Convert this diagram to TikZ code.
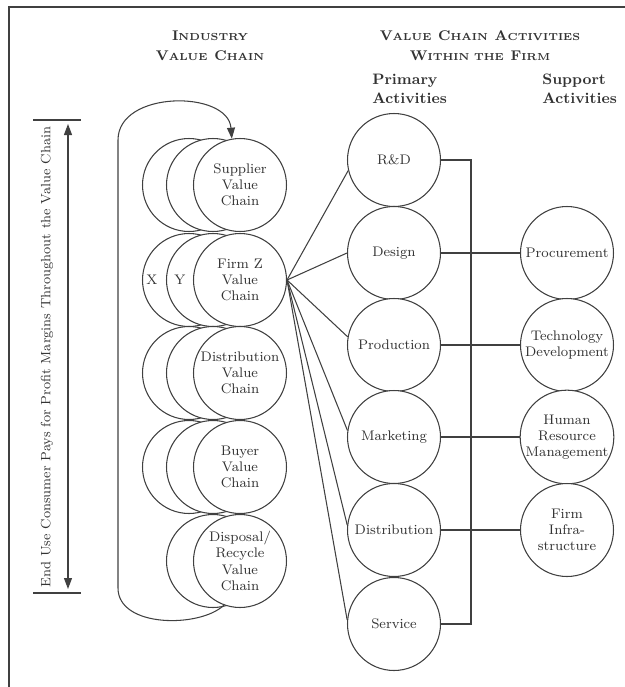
\documentclass[tikz,border=0pt]{standalone}
\usepackage{tikz}
\usetikzlibrary{arrows.meta, positioning, calc}

% fake small caps for the headings
\newcommand{\hsc}[2]{{\fontsize{8}{11}\selectfont #1}{\fontsize{5.8}{11}\selectfont #2}}

\begin{document}
\begin{tikzpicture}[x=0.02cm, y=-0.02cm, line width=0.6pt, color=black!75,
  every node/.style={text=black!80, font=\fontsize{7.9}{9.2}\selectfont},
  vc/.style={circle, draw, fill=white, minimum size=1.86cm, inner sep=0pt, align=center},
  head/.style={font=\bfseries\fontsize{8.6}{10.6}\selectfont, align=left, anchor=west},
  title/.style={font=\bfseries, align=center}]
  \useasboundingbox (0,0) rectangle (625,687);

  % Frame
  \draw (9,687) -- (9,7) -- (625,7);

  % Headings
  \node[title] (indHead) at (210,46) {\hsc{I}{NDUSTRY}\\[-0.5pt]\hsc{V}{ALUE} \hsc{C}{HAIN}};
  \node[title] (firmHead) at (480,46) {\hsc{V}{ALUE} \hsc{C}{HAIN} \hsc{A}{CTIVITIES}\\[-0.5pt]\hsc{W}{ITHIN THE} \hsc{F}{IRM}};
  \node[head] (primHead) at (366,89) {Primary\\Activities};
  \node[head] (suppHead) at (536,89) {Support\\Activities};

  % End use arrow
  \coordinate (barTopL) at (33,120);
  \coordinate (barTopR) at (81,120);
  \coordinate (barBotL) at (33,593);
  \coordinate (barBotR) at (81,593);
  \coordinate (arrTop) at (68,124);
  \coordinate (arrBot) at (68,589);
  \draw (barTopL) -- (barTopR);
  \draw (barBotL) -- (barBotR);
  \draw[{Triangle[length=2.2mm,width=1.6mm]}-{Triangle[length=2.2mm,width=1.6mm]}] (arrTop) -- (arrBot);
  \node[rotate=90, font=\fontsize{7.7}{9}\selectfont] (endUse) at (47,357)
    {End Use Consumer Pays for Profit Margins Throughout the Value Chain};

  % Industry value chain, back circles
  \node[vc] (supplierX) at (189,185) {};
  \node[vc] (firmX) at (189,280) {};
  \node[vc] (distX) at (189,373) {};
  \node[vc] (buyerX) at (189,467) {};
  \node[vc] (supplierY) at (213,185) {};
  \node[vc] (firmY) at (213,280) {};
  \node[vc] (distY) at (213,373) {};
  \node[vc] (buyerY) at (213,467) {};
  \node[vc] (disposalY) at (213,561) {};
  \node (xLab) at (152,280) {X};
  \node (yLab) at (180,280) {Y};

  % Industry value chain, front circles
  \node[vc] (supplier) at (240,185) {Supplier\\Value\\Chain};
  \node[vc] (firmZ) at (240,280) {Firm Z\\Value\\Chain};
  \node[vc] (distVC) at (240,373) {Distribution\\Value\\Chain};
  \node[vc] (buyer) at (240,467) {Buyer\\Value\\Chain};
  \node[vc] (disposal) at (240,561) {Disposal/\\Recycle\\Value\\Chain};

  % Loop back to the supplier
  \draw[-{Triangle[length=2.2mm,width=1.6mm]}] (disposal.250) .. controls (200,628) and (118,628) .. (118,588)
    -- (118,140) .. controls (118,90) and (228,90) .. (supplier.100);

  % Primary activities
  \node[vc] (rd) at (394,160) {R\&D};
  \node[vc] (design) at (394,253) {Design};
  \node[vc] (production) at (394,345) {Production};
  \node[vc] (marketing) at (394,437) {Marketing};
  \node[vc] (distribution) at (394,530) {Distribution};
  \node[vc] (service) at (394,624) {Service};

  % Support activities
  \node[vc] (procurement) at (567,253) {Procurement};
  \node[vc] (techDev) at (567,345) {Technology\\Development};
  \node[vc] (hrm) at (567,437) {Human\\Resource\\Management};
  \node[vc] (infra) at (567,530) {Firm\\Infra-\\structure};

  % Firm Z to primary activities
  \draw (firmZ.east) -- (rd.193);
  \draw (firmZ.east) -- (design.west);
  \draw (firmZ.east) -- (production.170);
  \draw (firmZ.east) -- (marketing.172);
  \draw (firmZ.east) -- (distribution.174);
  \draw (firmZ.east) -- (service.175);

  % Bracket and links to support activities
  \coordinate (busTop) at (471,160);
  \coordinate (busBot) at (471,624);
  \draw (rd.east) -- (busTop) -- (busBot) -- (service.east);
  \draw (design.east) -- (procurement.west);
  \draw (production.east) -- (techDev.west);
  \draw (marketing.east) -- (hrm.west);
  \draw (distribution.east) -- (infra.west);
\end{tikzpicture}
\end{document}
